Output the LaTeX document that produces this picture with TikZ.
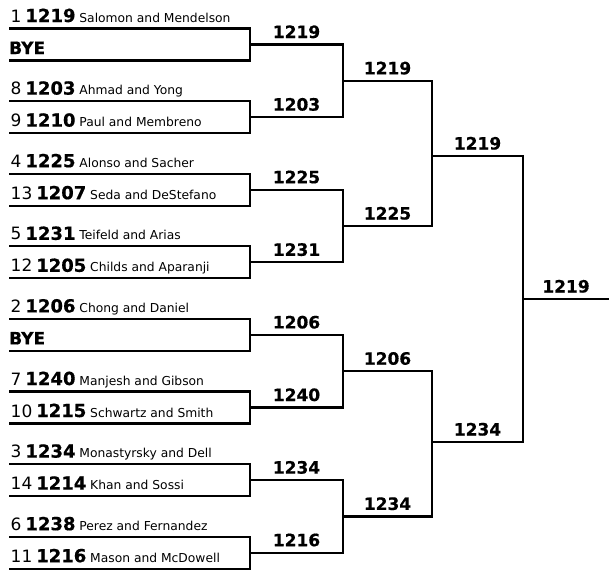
\documentclass[tikz,border=0pt]{standalone}
\usepackage{fontspec}
\setmainfont{DejaVu Sans}[BoldFeatures={FakeBold=0.6}]
\usepackage{tikz}
\usetikzlibrary{positioning}

\newcommand{\teamtext}[3]{{\fontsize{17}{19}\selectfont #1} {\fontsize{18}{21}\selectfont\bfseries #2} #3}

\begin{document}
\begin{tikzpicture}[
    x=1pt, y=-1pt,
    line/.style={line width=2.2pt},
    team/.style={anchor=base west, inner sep=0pt, yshift=6.5pt, font=\fontsize{12.3}{14}\selectfont},
    bye/.style={team, font=\fontsize{17}{20}\selectfont\bfseries},
    score/.style={anchor=base, inner sep=0pt, yshift=6.5pt, font=\fontsize{17}{20}\selectfont\bfseries}
]
    \useasboundingbox (0,0) rectangle (609,571);

    % slot lines
    \coordinate (s1) at (9,28.5);   \coordinate (s2) at (9,60.5);
    \coordinate (s3) at (9,101.1);  \coordinate (s4) at (9,133.1);
    \coordinate (s5) at (9,173.7);  \coordinate (s6) at (9,205.7);
    \coordinate (s7) at (9,246.3);  \coordinate (s8) at (9,278.3);
    \coordinate (s9) at (9,318.9);  \coordinate (s10) at (9,350.9);
    \coordinate (s11) at (9,391.5); \coordinate (s12) at (9,423.5);
    \coordinate (s13) at (9,464.1); \coordinate (s14) at (9,496.1);
    \coordinate (s15) at (9,536.7); \coordinate (s16) at (9,568.7);

    % match points
    \coordinate (m1) at (250,44.5);  \coordinate (m2) at (250,117.1);
    \coordinate (m3) at (250,189.7); \coordinate (m4) at (250,262.3);
    \coordinate (m5) at (250,334.9); \coordinate (m6) at (250,407.5);
    \coordinate (m7) at (250,480.1); \coordinate (m8) at (250,552.7);
    \coordinate (q1) at (343,80.8);  \coordinate (q2) at (343,226);
    \coordinate (q3) at (343,371.2); \coordinate (q4) at (343,516.4);
    \coordinate (h1) at (432,156);   \coordinate (h2) at (432,442);
    \coordinate (fin) at (523,299);
    \coordinate (champ) at (609,299);

    \node[team, xshift=1.5pt] (t1) at (s1) {\teamtext{1}{1219}{Salomon and Mendelson}};
    \node[bye] (t2) at (s2) {BYE};
    \node[team, xshift=1.5pt] (t3) at (s3) {\teamtext{8}{1203}{Ahmad and Yong}};
    \node[team, xshift=1.5pt] (t4) at (s4) {\teamtext{9}{1210}{Paul and Membreno}};
    \node[team, xshift=1.5pt] (t5) at (s5) {\teamtext{4}{1225}{Alonso and Sacher}};
    \node[team, xshift=1.5pt] (t6) at (s6) {\teamtext{13}{1207}{Seda and DeStefano}};
    \node[team, xshift=1.5pt] (t7) at (s7) {\teamtext{5}{1231}{Teifeld and Arias}};
    \node[team, xshift=1.5pt] (t8) at (s8) {\teamtext{12}{1205}{Childs and Aparanji}};
    \node[team, xshift=1.5pt] (t9) at (s9) {\teamtext{2}{1206}{Chong and Daniel}};
    \node[bye] (t10) at (s10) {BYE};
    \node[team, xshift=1.5pt] (t11) at (s11) {\teamtext{7}{1240}{Manjesh and Gibson}};
    \node[team, xshift=1.5pt] (t12) at (s12) {\teamtext{10}{1215}{Schwartz and Smith}};
    \node[team, xshift=1.5pt] (t13) at (s13) {\teamtext{3}{1234}{Monastyrsky and Dell}};
    \node[team, xshift=1.5pt] (t14) at (s14) {\teamtext{14}{1214}{Khan and Sossi}};
    \node[team, xshift=1.5pt] (t15) at (s15) {\teamtext{6}{1238}{Perez and Fernandez}};
    \node[team, xshift=1.5pt] (t16) at (s16) {\teamtext{11}{1216}{Mason and McDowell}};

    % first round
    \draw[line] (s1) -| (m1) |- (s2);
    \draw[line] (s3) -| (m2) |- (s4);
    \draw[line] (s5) -| (m3) |- (s6);
    \draw[line] (s7) -| (m4) |- (s8);
    \draw[line] (s9) -| (m5) |- (s10);
    \draw[line] (s11) -| (m6) |- (s12);
    \draw[line] (s13) -| (m7) |- (s14);
    \draw[line] (s15) -| (m8) |- (s16);

    % second round
    \draw[line] (m1) -| node[score, pos=.25] (w1) {1219} (q1) |- node[score, pos=.75] (w2) {1203} (m2);
    \draw[line] (m3) -| node[score, pos=.25] (w3) {1225} (q2) |- node[score, pos=.75] (w4) {1231} (m4);
    \draw[line] (m5) -| node[score, pos=.25] (w5) {1206} (q3) |- node[score, pos=.75] (w6) {1240} (m6);
    \draw[line] (m7) -| node[score, pos=.25] (w7) {1234} (q4) |- node[score, pos=.75] (w8) {1216} (m8);

    % semis and final
    \draw[line] (q1) -| node[score, pos=.25] (v1) {1219} (h1) |- node[score, pos=.75] (v2) {1225} (q2);
    \draw[line] (q3) -| node[score, pos=.25] (v3) {1206} (h2) |- node[score, pos=.75] (v4) {1234} (q4);
    \draw[line] (h1) -| node[score, pos=.25] (u1) {1219} (fin) |- node[score, pos=.75] (u2) {1234} (h2);
    \draw[line] (fin) -- node[score] (winner) {1219} (champ);
\end{tikzpicture}
\end{document}
